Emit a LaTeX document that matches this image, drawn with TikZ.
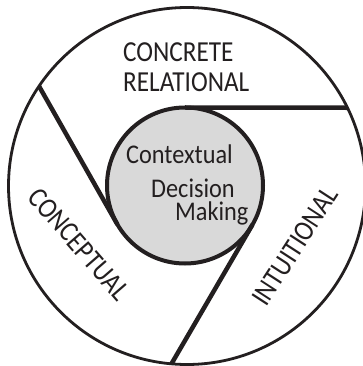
\documentclass[tikz,border=0pt]{standalone}
\usepackage{fontspec}
\newfontfamily\segfont[FakeStretch=0.87]{Carlito}
\newfontfamily\corefont[FakeStretch=0.9]{Carlito}
\definecolor{ink}{RGB}{35,31,32}
\definecolor{coregray}{RGB}{217,217,217}

\begin{document}
\begin{tikzpicture}[x=1pt, y=-1pt,
    spoke/.style={draw=ink, line width=4.5pt},
    segtext/.style={inner sep=0pt, text=ink, font=\segfont\fontsize{29}{30}\selectfont},
    coretext/.style={inner sep=0pt, text=ink, font=\corefont\fontsize{27}{28}\selectfont}]
    \useasboundingbox (0,0) rectangle (363,366);
    \clip (0,0) rectangle (363,366);
    \node[circle, draw=ink, line width=2.8pt, minimum size=357pt, inner sep=0pt, outer sep=0pt] (rim) at (187,186) {};
    \node[circle, draw=ink, fill=coregray, line width=4pt, minimum size=156pt, inner sep=0pt, outer sep=0pt] (core) at (185,185.5) {};
    \draw[spoke] (core.90) -- (rim.26.4);
    \draw[spoke] (core.210) -- (rim.146.4);
    \draw[spoke] (core.330) -- (rim.265.2);
    \node[coretext, anchor=base west] (ctx) at (126,164) {Contextual};
    \node[coretext, anchor=base west] (dec) at (151,197) {Decision};
    \node[coretext, anchor=base west] (mak) at (175,220) {Making};
    \node[segtext, anchor=base west] (concrete) at (123,61.7) {CONCRETE};
    \node[segtext, anchor=base west] (relational) at (123,91.7) {RELATIONAL};
    \node[segtext, rotate=-49] (conceptual) at (79,244) {CONCEPTUAL};
    \node[segtext, rotate=57] (intuitional) at (295,246) {INTUITIONAL};
  \end{tikzpicture}
\end{document}
